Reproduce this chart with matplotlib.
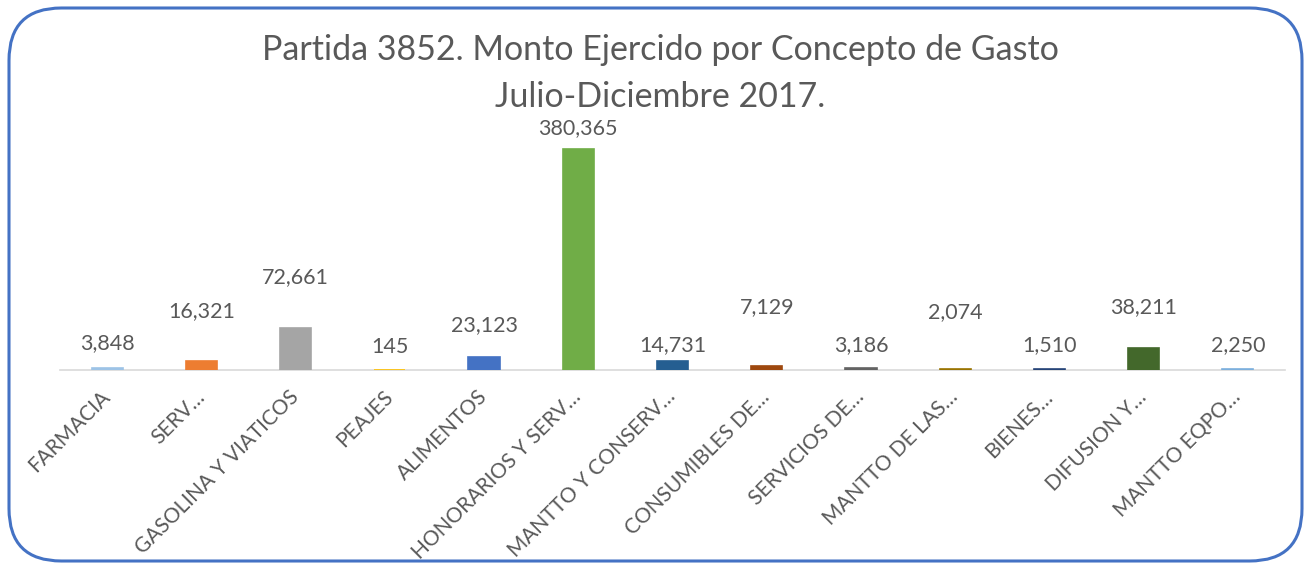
import numpy as np
import matplotlib.pyplot as plt
from matplotlib.patches import FancyBboxPatch

# datos del grafico
conceptos = ['FARMACIA', 'SERV…', 'GASOLINA Y VIATICOS', 'PEAJES', 'ALIMENTOS',
             'HONORARIOS Y SERV…', 'MANTTO Y CONSERV…', 'CONSUMIBLES DE…',
             'SERVICIOS DE…', 'MANTTO DE LAS…', 'BIENES…', 'DIFUSION Y…',
             'MANTTO EQPO…']
montos = [3848, 16321, 72661, 145, 23123, 380365, 14731, 7129, 3186, 2074, 1510, 38211, 2250]
colores = ['#9DC3E6', '#ED7D31', '#A5A5A5', '#FFC000', '#4472C4', '#70AD47', '#255E91',
           '#9E480E', '#636363', '#997300', '#264478', '#43682B', '#7CAFDD']
# separacion de las etiquetas sobre la barra (pixeles)
sep_etiqueta = [25, 49, 51, 23, 31, 21, 16, 59, 23, 57, 24, 41, 24]

plt.rcParams['font.family'] = ['Lato', 'DejaVu Sans']
gris = '#595959'

fig = plt.figure(figsize=(13.1, 5.7), dpi=100)
W, H = 1310, 570
# borde redondeado
borde = FancyBboxPatch((9 / W, 9 / H), 1293 / W, 553 / H,
                       boxstyle='round,pad=0,rounding_size=0.04',
                       transform=fig.transFigure, fill=False,
                       edgecolor='#4472C4', linewidth=2.2,
                       mutation_aspect=W / H)
fig.patches.append(borde)

ax = fig.add_axes([60 / W, 1 - 370 / H, 1225 / W, 250 / H])
x = np.arange(len(conceptos))
ax.bar(x, montos, width=0.33, color=colores, edgecolor=colores, linewidth=1.2, zorder=3)
ax.set_xlim(-0.5, len(conceptos) - 0.5)
ax.set_ylim(0, 380365 * 250 / 221)

for i in range(len(montos)):
    ax.annotate('{:,}'.format(montos[i]), (x[i], montos[i]),
                xytext=(0, sep_etiqueta[i]), textcoords='offset pixels',
                ha='center', va='center', fontsize=15.5, color=gris)

for s in ['top', 'right', 'left']:
    ax.spines[s].set_visible(False)
ax.spines['bottom'].set_color('#D9D9D9')
ax.spines['bottom'].set_linewidth(1.2)
ax.set_yticks([])
ax.set_xticks(x)
ax.set_xticklabels(conceptos, rotation=45, ha='right', va='center',
                   rotation_mode='anchor', fontsize=15, color=gris)
ax.tick_params(axis='x', length=0, pad=17)

fig.text(660 / W, 1 - 50 / H, 'Partida 3852. Monto Ejercido por Concepto de Gasto',
         ha='center', va='center', fontsize=24.5, color=gris)
fig.text(660 / W, 1 - 97 / H, 'Julio-Diciembre 2017.',
         ha='center', va='center', fontsize=24.5, color=gris)

fig.savefig('out.png', dpi=100)
